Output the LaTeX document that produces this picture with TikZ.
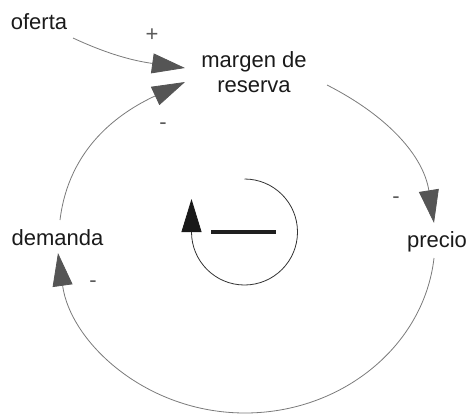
\documentclass[tikz,border=0pt]{standalone}
\usepackage{fontspec}
\setmainfont{Liberation Sans}
\usetikzlibrary{arrows.meta}
\definecolor{linegray}{HTML}{7A7A7A}
\definecolor{tipgray}{HTML}{555555}
\definecolor{signgray}{HTML}{5A5A5A}
\definecolor{txt}{HTML}{1A1A1A}
\begin{document}
\begin{tikzpicture}[x=1pt,y=1pt,
  var/.style={inner sep=0pt, text=txt, font=\fontsize{22}{25}\selectfont},
  sign/.style={inner sep=0pt, anchor=base, text=signgray, font=\fontsize{22}{25}\selectfont},
  link/.style={draw=linegray, line width=0.8pt, -{Triangle[length=33pt,width=20pt,color=tipgray]}},
  loopline/.style={draw=black!80, line width=0.8pt, -{Triangle[length=33pt,width=20pt,color=black!90]}},
  bar/.style={draw=black!88, line width=4pt}
]
\useasboundingbox (0,0) rectangle (471,-415);

% variables
\node[var, anchor=base] (oferta) at (39,-29) {oferta};
\node[var, align=center] (margen) at (254,-72.5) {margen de\\reserva};
\node[var, anchor=base] (precio) at (437,-247) {precio};
\node[var, anchor=base] (demanda) at (57.5,-245) {demanda};
\coordinate (bot) at (245,-413);

% connectors
\draw[link] ([shift={(34,-9)}]oferta.base) to[out=-25,in=172] ([shift={(-69,4.5)}]margen.center);
\draw[link] ([shift={(2.5,25)}]demanda.base) to[out=83,in=205] ([shift={(-69,-9.5)}]margen.center);
\draw[link] ([shift={(73,-12.5)}]margen.center) to[out=-27,in=99] ([shift={(-3,24)}]precio.base);
\draw[link] ([shift={(-3,-11)}]precio.base)
   to[out=-96.5,in=0,out distance=88.6pt,in distance=96.7pt] (bot)
   to[out=180,in=-82,out distance=98.8pt,in distance=90.5pt] ([shift={(0.5,-8)}]demanda.base);

% polarity signs
\node[sign] (s1) at (152,-41.7) {+};
\node[sign] (s2) at (163,-129) {-};
\node[sign] (s3) at (396,-203) {-};
\node[sign] (s4) at (93,-287) {-};

% balancing loop symbol
\coordinate (loopc) at (244.5,-232);
\draw[loopline] ([shift={(0,53)}]loopc) arc[start angle=90,end angle=-180,radius=53] -- ++(0,33);
\draw[bar] ([shift={(-33.5,0)}]loopc) -- ([shift={(31.5,0)}]loopc);
\end{tikzpicture}
\end{document}
